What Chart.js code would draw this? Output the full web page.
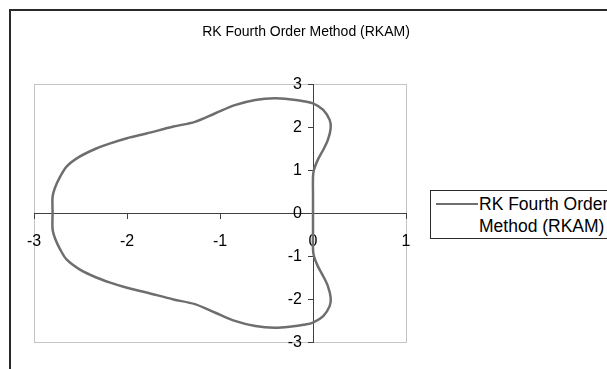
<!DOCTYPE html>
<html>
<head>
<meta charset="utf-8">
<script src="https://cdn.jsdelivr.net/npm/chart.js@4/dist/chart.umd.min.js"></script>
<style>
  body { margin: 0; width: 607px; height: 369px; overflow: hidden; position: relative; background: #fff;
         font-family: "Liberation Sans", Arial, sans-serif; color: #000; }
  #frame { position: absolute; left: 9px; top: 9px; width: 700px; height: 500px; border: 2px solid #2a2a2a; }
  #title { position: absolute; left: 0; top: 22px; width: 612px; text-align: center; font-size: 14px; line-height: 18px; }
  #legend { position: absolute; left: 430px; top: 190px; width: 220px; height: 47px; border: 1px solid #2a2a2a; background: #fff; }
  #legend .swatch { position: absolute; left: 5px; top: 12px; width: 42px; height: 0; border-top: 2.5px solid #6e6e6e; }
  #legend .text { position: absolute; left: 48px; top: 2px; font-size: 17.5px; line-height: 22px; white-space: nowrap; }
  #chart { position: absolute; left: 0; top: 0; }
</style>
</head>
<body>
<div id="frame"></div>
<canvas id="chart" width="607" height="369"></canvas>
<div id="title"></div>
<div id="legend"><div class="swatch"></div><div class="text"></div></div>
<script>
var chart_title = "RK Fourth Order Method (RKAM)";
var series_label = ["RK Fourth Order", "Method (RKAM)"];

// curve, starting at the origin, going up and round
var curveX = [0.00, 0.00, 0.00, 0.01, 0.05, 0.11, 0.16, 0.19, 0.18, 0.11, 0.00,
              -0.10, -0.23, -0.41, -0.62, -0.84, -1.05, -1.27, -1.50, -1.79, -2.00,
              -2.18, -2.33, -2.51, -2.65, -2.72, -2.77, -2.80, -2.80,
              -2.80, -2.77, -2.72, -2.65, -2.51, -2.33, -2.18, -2.00, -1.79, -1.50,
              -1.27, -1.05, -0.84, -0.62, -0.41, -0.23, -0.10, 0.00, 0.11, 0.18,
              0.19, 0.16, 0.11, 0.05, 0.01, 0.00, 0.00, 0.00];
var curveY = [0.00, 0.40, 0.84, 1.00, 1.23, 1.47, 1.70, 1.97, 2.16, 2.40, 2.55,
              2.60, 2.64, 2.67, 2.63, 2.51, 2.32, 2.12, 2.01, 1.85, 1.74,
              1.62, 1.50, 1.31, 1.08, 0.84, 0.61, 0.38, 0.00,
              -0.38, -0.61, -0.84, -1.08, -1.31, -1.50, -1.62, -1.74, -1.85, -2.01,
              -2.12, -2.32, -2.51, -2.63, -2.67, -2.64, -2.60, -2.55, -2.40, -2.16,
              -1.97, -1.70, -1.47, -1.23, -1.00, -0.84, -0.40, 0.00];

var xRange = [-3, 1];
var yRange = [-3, 3];

var points = curveX.map(function(x, i) { return { x: x, y: curveY[i] }; });

var tickFont = { family: "'Liberation Sans', Arial, sans-serif", size: 16 };

// grey box round the plot area
var plotBox = {
	id: "plotBox",
	beforeDraw: function(chart) {
		var a = chart.chartArea, ctx = chart.ctx;
		ctx.save();
		ctx.strokeStyle = "#c4c4c4";
		ctx.lineWidth = 1;
		ctx.strokeRect(a.left + 0.5, a.top + 0.5, a.right - a.left, a.bottom - a.top);
		ctx.restore();
	}
};

// y labels sit left of the y axis at x = 0 (chart.js puts them on the line)
var yLabels = {
	id: "yLabels",
	beforeDatasetsDraw: function(chart) {
		var sx = chart.scales.x, sy = chart.scales.y, ctx = chart.ctx;
		var right = sx.getPixelForValue(0) - 11;
		ctx.save();
		ctx.font = tickFont.size + "px " + tickFont.family;
		ctx.fillStyle = "#000";
		ctx.textAlign = "right";
		ctx.textBaseline = "middle";
		sy.ticks.forEach(function(t) {
			ctx.fillText(t.label, right, sy.getPixelForValue(t.value) + 1);
		});
		ctx.restore();
	}
};

function axisOptions(range, pos, showLabels) {
	return {
		type: "linear",
		min: range[0],
		max: range[1],
		position: pos,
		ticks: { display: showLabels, stepSize: 1, color: "#000", font: tickFont, padding: 14 },
		grid: { drawOnChartArea: false, drawTicks: true, tickLength: 5, color: "#404040", lineWidth: 1 },
		border: { display: true, color: "#404040", width: 1 }
	};
}

document.getElementById("title").textContent = chart_title;
document.querySelector("#legend .text").innerHTML = series_label.join("<br>");

new Chart(document.getElementById("chart"), {
	type: "scatter",
	data: {
		datasets: [{
			label: series_label.join(" "),
			data: points,
			showLine: true,
			borderColor: "#6e6e6e",
			borderWidth: 2.5,
			pointRadius: 0,
			tension: 0.3,
			fill: false
		}]
	},
	plugins: [plotBox, yLabels],
	options: {
		responsive: false,
		animation: false,
		devicePixelRatio: 1,
		layout: { padding: { left: 34, top: 84, right: 201, bottom: 27 } },
		plugins: { legend: { display: false }, title: { display: false }, tooltip: { enabled: false } },
		scales: {
			x: axisOptions(xRange, { y: 0 }, true),
			y: axisOptions(yRange, { x: 0 }, false)
		}
	}
});
</script>
</body>
</html>
